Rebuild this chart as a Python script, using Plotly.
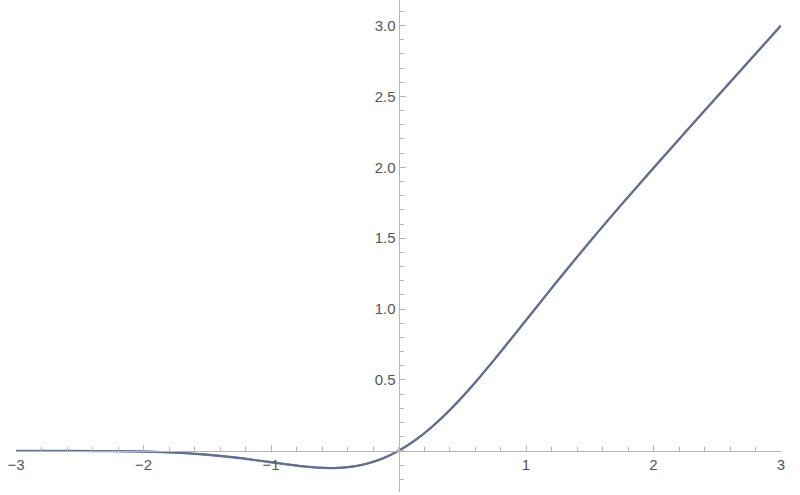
import plotly.graph_objects as go

# values
x_vals = [-3.0, -2.75, -2.5, -2.25, -2.0, -1.75, -1.5, -1.25, -1.125, -1.0, -0.875, -0.75,
          -0.625, -0.5, -0.375, -0.25, -0.125, 0.0, 0.125, 0.25, 0.375, 0.5, 0.625, 0.75,
          0.875, 1.0, 1.125, 1.25, 1.5, 1.75, 2.0, 2.25, 2.5, 2.75, 3.0]
y_grey = [0.0, -0.0001, -0.0005, -0.0017, -0.0047, -0.0116, -0.0254, -0.0482, -0.0637, -0.0786,
          -0.0945, -0.1083, -0.1178, -0.1199, -0.1117, -0.0905, -0.0537, 0.0, 0.0713, 0.1595,
          0.2633, 0.3801, 0.5073, 0.6417, 0.7805, 0.9214, 1.0613, 1.2018, 1.4746, 1.7384,
          1.9953, 2.2483, 2.4995, 2.7499, 3.0]
y_blue = [0.0, -0.0001, -0.0006, -0.0020, -0.0055, -0.0130, -0.0275, -0.0505, -0.0660, -0.0805,
          -0.0960, -0.1095, -0.1190, -0.1210, -0.1125, -0.0910, -0.0540, 0.0, 0.0713, 0.1595,
          0.2633, 0.3801, 0.5073, 0.6417, 0.7805, 0.9214, 1.0613, 1.2018, 1.4746, 1.7384,
          1.9953, 2.2483, 2.4995, 2.7499, 3.0]

x_ticks = [-3, -2, -1, 1, 2, 3]
x_ticktext = ["\u22123", "\u22122", "\u22121", "1", "2", "3"]
y_ticks = [0.5, 1.0, 1.5, 2.0, 2.5, 3.0]
y_ticktext = ["0.5", "1.0", "1.5", "2.0", "2.5", "3.0"]
x_minor = [round(-3 + 0.2 * i, 2) for i in range(31)]
y_minor = [round(-0.2 + 0.1 * i, 2) for i in range(34)]

fig = go.Figure()
fig.add_trace(go.Scatter(x=x_vals, y=y_blue, mode="lines", line=dict(color="#6b70c6", width=2.2, shape="spline")))
fig.add_trace(go.Scatter(x=x_vals, y=y_grey, mode="lines", line=dict(color="#627186", width=2, shape="spline")))

axis_col = "#b5b5b5"
fig.update_layout(
    width=800, height=495, showlegend=False,
    paper_bgcolor="white", plot_bgcolor="white",
    margin=dict(l=16, r=19, t=0, b=3),
    font=dict(family="Liberation Sans, Arial, sans-serif", size=15, color="#555555"),
    xaxis=dict(range=[-3, 3], showgrid=False, zeroline=False, showline=True, linecolor=axis_col,
               linewidth=1, anchor="free", position=0.29 / 3.47,
               tickvals=x_ticks, ticktext=x_ticktext, ticks="inside", ticklen=6, tickcolor=axis_col,
               minor=dict(tickvals=x_minor, ticks="inside", ticklen=4, tickcolor=axis_col)),
    yaxis=dict(range=[-0.29, 3.18], showgrid=False, zeroline=False, showline=True, linecolor=axis_col,
               linewidth=1, anchor="free", position=0.5,
               tickvals=y_ticks, ticktext=y_ticktext, ticks="inside", ticklen=6, tickcolor=axis_col,
               minor=dict(tickvals=y_minor, ticks="inside", ticklen=4, tickcolor=axis_col)),
)

fig.write_html("out.html", config={"displayModeBar": False},
               post_script="document.body.style.margin='0';")
